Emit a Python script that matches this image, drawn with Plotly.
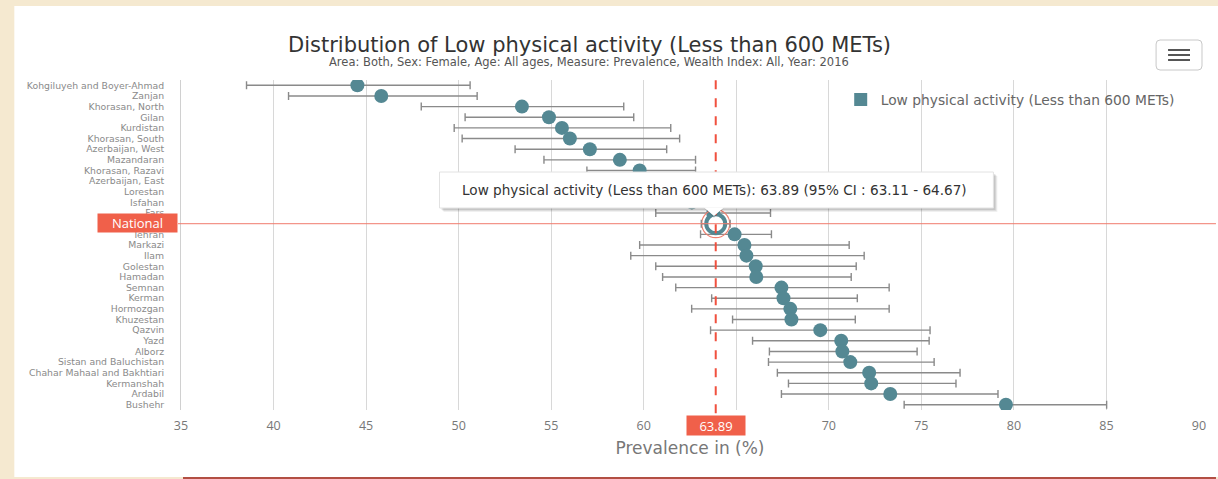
import plotly.graph_objects as go

# Province estimates of low physical activity prevalence (%), women, 2016
provinces = [
    "Kohgiluyeh and Boyer-Ahmad", "Zanjan", "Khorasan, North", "Gilan", "Kurdistan",
    "Khorasan, South", "Azerbaijan, West", "Mazandaran", "Khorasan, Razavi",
    "Azerbaijan, East", "Lorestan", "Isfahan", "Fars", "Tehran", "Markazi", "Ilam",
    "Golestan", "Hamadan", "Semnan", "Kerman", "Hormozgan", "Khuzestan", "Qazvin",
    "Yazd", "Alborz", "Sistan and Baluchistan", "Chahar Mahaal and Bakhtiari",
    "Kermanshah", "Ardabil", "Bushehr",
]
prevalence = [
    44.53, 45.82, 53.42, 54.88, 55.58, 56.01, 57.09, 58.71, 59.78, 60.6, 61.5, 62.6,
    63.75, 64.91, 65.44, 65.55, 66.05, 66.08, 67.44, 67.55, 67.92, 67.98, 69.54,
    70.67, 70.73, 71.16, 72.18, 72.29, 73.32, 79.57,
]
ci_low = [
    38.54, 40.81, 47.98, 50.35, 49.76, 50.19, 53.05, 54.61, 56.93, 56.8, 57.5, 59.9,
    60.65, 63.07, 59.78, 59.3, 60.65, 61.02, 61.73, 63.67, 62.59, 64.8, 63.61,
    65.88, 66.79, 66.74, 67.22, 67.82, 67.44, 74.07,
]
ci_high = [
    50.62, 51.0, 58.92, 59.46, 61.46, 61.94, 61.24, 62.8, 62.8, 64.5, 65.6, 65.4,
    66.85, 66.9, 71.1, 71.91, 71.48, 71.21, 73.26, 71.54, 73.26, 71.43, 75.47,
    75.42, 74.77, 75.69, 77.09, 76.87, 79.14, 85.01,
]

national_label = "National"
national_value = 63.89
national_low = 63.11
national_high = 64.67

x_ticks = [35, 40, 45, 50, 55, 60, 65, 70, 75, 80, 85, 90]

series_name = "Low physical activity (Less than 600 METs)"
title_text = "Distribution of Low physical activity (Less than 600 METs)"
subtitle_text = ("Area: Both, Sex: Female, Age: All ages, Measure: Prevalence, "
                 "Wealth Index: All, Year: 2016")

# ---- styling -------------------------------------------------------------
TEAL = "#548893"
RED = "#f0503e"
FONT = "DejaVu Sans, sans-serif"
TICK_FONT = "Open Sans, Noto Sans, sans-serif"

W, H = 1218, 479
ML, MR, MT, MB = 181, 17, 80, 69
PW, PH = W - ML - MR, H - MT - MB


def fx(p):
    """pixel column -> paper x"""
    return (p - ML) / PW


def fy(p):
    """pixel row -> paper y"""
    return (H - MB - p) / PH


# category order: provinces as listed, national inserted before the first higher estimate
cats = []
placed = False
for name, val in zip(provinces, prevalence):
    if not placed and val > national_value:
        cats.append(national_label)
        placed = True
    cats.append(name)
if not placed:
    cats.append(national_label)

prov_plus = [h - v for v, h in zip(prevalence, ci_high)]
prov_minus = [v - l for v, l in zip(prevalence, ci_low)]

fig = go.Figure()

fig.add_trace(go.Scatter(
    x=prevalence, y=provinces, mode="markers", showlegend=False, hoverinfo="skip",
    marker=dict(color=TEAL, size=14, line=dict(width=0)),
    error_x=dict(type="data", symmetric=False, array=prov_plus, arrayminus=prov_minus,
                 color="#8a8a8a", thickness=1.4, width=4),
))

# national estimate: hollow marker with a red halo
fig.add_trace(go.Scatter(
    x=[national_value], y=[national_label], mode="markers", showlegend=False,
    marker=dict(color="rgba(0,0,0,0)", size=28, line=dict(color="#f08070", width=1.2)),
    hoverinfo="skip",
))
fig.add_trace(go.Scatter(
    x=[national_value], y=[national_label], mode="markers", showlegend=False,
    marker=dict(color="white", size=19, line=dict(color=TEAL, width=4)),
    error_x=dict(type="data", symmetric=False, array=[national_high - national_value],
                 arrayminus=[national_value - national_low],
                 color="#8a8a8a", thickness=1.4, width=4),
    hoverinfo="skip",
))

# legend entry (square swatch)
fig.add_trace(go.Scatter(
    x=[None], y=[None], mode="markers", name=series_name,
    marker=dict(color=TEAL, symbol="square", size=13),
))

shapes = [
    # page card
    dict(type="rect", xref="paper", yref="paper", x0=fx(14), x1=fx(W + 5),
         y0=fy(477), y1=fy(6), fillcolor="white", line=dict(width=0), layer="below"),
    dict(type="line", xref="paper", yref="paper", x0=fx(183), x1=fx(W),
         y0=fy(478), y1=fy(478), line=dict(color="#9b1b14", width=1.5)),
    # national reference lines
    dict(type="line", xref="x", yref="paper", x0=national_value, x1=national_value,
         y0=-0.01, y1=1.0, line=dict(color=RED, width=2, dash="dash")),
    dict(type="line", xref="paper", yref="y", x0=fx(178), x1=fx(W),
         y0=national_label, y1=national_label, line=dict(color="#f07a6c", width=1)),
    # hamburger button
    dict(type="path", xref="paper", yref="paper",
         path=("M {a},{t} L {b},{t} Q {r},{t} {r},{ti} L {r},{bi} Q {r},{bo} {b},{bo} "
               "L {a},{bo} Q {l},{bo} {l},{bi} L {l},{ti} Q {l},{t} {a},{t} Z").format(
             l=fx(1158), r=fx(1204), a=fx(1162), b=fx(1200),
             t=fy(40), ti=fy(44), bi=fy(66), bo=fy(70)),
         fillcolor="white", line=dict(color="#c8c8c8", width=1)),
]
for yy in (50, 55, 60):
    shapes.append(dict(type="line", xref="paper", yref="paper", x0=fx(1170), x1=fx(1192),
                       y0=fy(yy), y1=fy(yy), line=dict(color="#555555", width=2)))

# tooltip box with soft shadow and pointer
for off, alpha in ((4, 0.06), (3, 0.08), (2, 0.10)):
    shapes.append(dict(type="rect", xref="paper", yref="paper",
                       x0=fx(440 + off), x1=fx(995 + off), y0=fy(208 + off), y1=fy(172 + off),
                       fillcolor="rgba(0,0,0,%.2f)" % alpha, line=dict(width=0)))
shapes.append(dict(type="path", xref="paper", yref="paper",
                   path="M {a},{t} L {b},{t} L {c},{tip} Z".format(
                       a=fx(704), b=fx(726), c=fx(715), t=fy(207), tip=fy(218)),
                   fillcolor="rgba(0,0,0,0.12)", line=dict(width=0)))
shapes.append(dict(type="rect", xref="paper", yref="paper",
                   x0=fx(440), x1=fx(995), y0=fy(208), y1=fy(172),
                   fillcolor="white", line=dict(color="#e2e2e2", width=1)))
shapes.append(dict(type="path", xref="paper", yref="paper",
                   path="M {a},{t} L {b},{t} L {c},{tip} Z".format(
                       a=fx(705), b=fx(725), c=fx(715), t=fy(207.5), tip=fy(216)),
                   fillcolor="white", line=dict(width=0)))

annotations = [
    dict(text=title_text, xref="paper", yref="paper", x=fx(590), y=fy(45),
         showarrow=False, font=dict(family=FONT, size=21, color="#333333"),
         xanchor="center", yanchor="middle"),
    dict(text=subtitle_text, xref="paper", yref="paper", x=fx(590), y=fy(62),
         showarrow=False, font=dict(family=FONT, size=11.5, color="#555555"),
         xanchor="center", yanchor="middle"),
    dict(text=national_label, xref="paper", yref="paper", x=fx(137.5), y=fy(223),
         showarrow=False, font=dict(family=TICK_FONT, size=13, color="white"),
         bgcolor="#f0604a", width=75, height=14, borderpad=2, xanchor="center",
         yanchor="middle"),
    dict(text="%.2f" % national_value, xref="x", yref="paper", x=national_value, y=fy(425),
         showarrow=False, font=dict(family=TICK_FONT, size=13, color="white"),
         bgcolor="#f0604a", width=54, height=15, borderpad=2, xanchor="center",
         yanchor="middle"),
    dict(text="%s: %.2f (95%% CI : %.2f - %.2f)" % (series_name, national_value,
                                                    national_low, national_high),
         xref="paper", yref="paper", x=fx(716), y=fy(190), showarrow=False,
         font=dict(family=FONT, size=13.6, color="#333333"),
         xanchor="center", yanchor="middle"),
]

fig.update_layout(
    width=W, height=H,
    margin=dict(l=ML, r=MR, t=MT, b=MB),
    paper_bgcolor="#f5e9d0",
    plot_bgcolor="white",
    font=dict(family=FONT, color="#777777"),
    shapes=shapes,
    annotations=annotations,
    showlegend=True,
    legend=dict(x=fx(842), y=fy(84), xanchor="left", yanchor="top",
                bgcolor="rgba(0,0,0,0)", font=dict(family=FONT, size=13.8, color="#666666"),
                itemsizing="trace"),
    xaxis=dict(range=[35, 90], tickvals=x_ticks, showgrid=True, gridcolor="#d8d8d8",
               gridwidth=1, zeroline=False, showline=False, ticks="",
               ticklabelstandoff=6,
               tickfont=dict(family=TICK_FONT, size=12.5, color="#777777"),
               title=dict(text="Prevalence in (%)",
                          font=dict(family=FONT, size=17, color="#777777"), standoff=9)),
    yaxis=dict(type="category", categoryorder="array", categoryarray=cats[::-1],
               range=[-0.5, len(cats) - 0.5], showgrid=False, zeroline=False,
               showline=True, linecolor="#d0d0d0", linewidth=1, ticks="",
               tickvals=cats, ticktext=["" if c == national_label else c for c in cats],
               ticklabelstandoff=14,
               tickfont=dict(family=FONT, size=9.3, color="#8a8a8a")),
)

fig.write_html("out.html")
